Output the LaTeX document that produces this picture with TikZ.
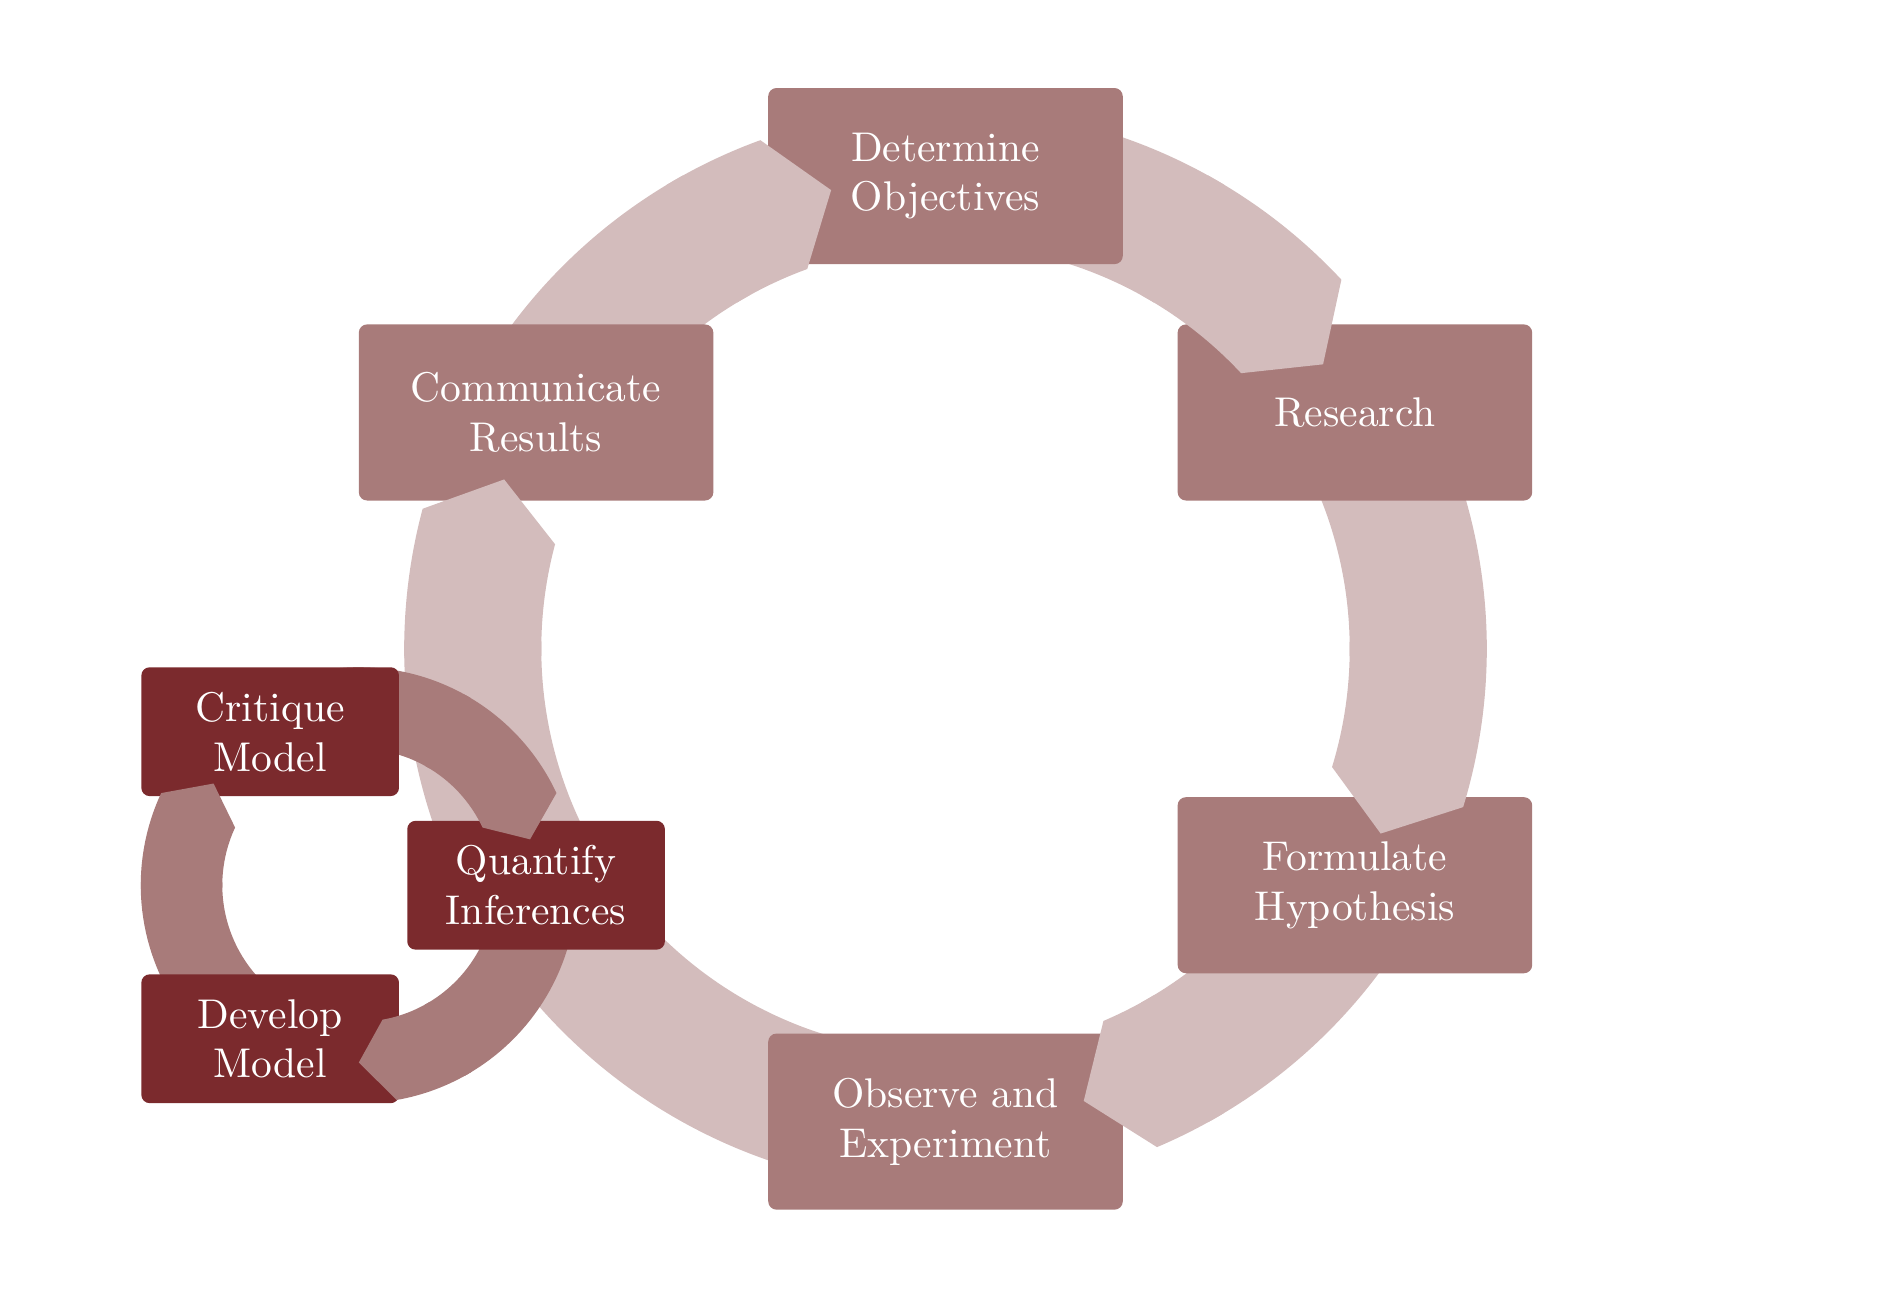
\documentclass[tikz,border=0pt]{standalone}
\usetikzlibrary{calc}
\definecolor{boxmid}{RGB}{168,123,122}
\definecolor{boxdark}{RGB}{123,42,45}
\definecolor{bandlight}{RGB}{211,188,188}
\pgfdeclarelayer{bandback}
\pgfdeclarelayer{bandfront}
\pgfdeclarelayer{loopback}
\pgfdeclarelayer{loopbox}
\pgfdeclarelayer{loopfront}
\pgfsetlayers{bandback,main,bandfront,loopback,loopbox,loopfront}
\begin{document}
\begin{tikzpicture}

\tikzset{bigbox/.style = {shape=rectangle, rounded corners=2pt, fill=boxmid, text=white, align=center, minimum width=3cm, minimum height=1.49cm, inner sep=0pt}}
\tikzset{smallbox/.style = {bigbox, fill=boxdark, minimum width=2.18cm, minimum height=1.09cm}}
\tikzset{bigtail/.style = {line width=1.16cm, bandlight}}
\tikzset{smalltail/.style = {line width=0.69cm, boxmid}}

\useasboundingbox (-8,-5.51) rectangle (8,5.49);
%centres
\coordinate (bigc) at (0,0);
\coordinate (smallc) at (-4.964,-2);

%boxes
\node[bigbox] (obj) at (90:4) {Determine\\Objectives};
\node[bigbox] (res) at (30:4) {Research};
\node[bigbox] (hyp) at (-30:4) {Formulate\\Hypothesis};
\node[bigbox] (obs) at (-90:4) {Observe and\\Experiment};
\node[bigbox] (com) at (150:4) {Communicate\\Results};
\begin{pgfonlayer}{loopbox}
\node[smallbox] (quant) at (210:4) {Quantify\\Inferences};
\node[smallbox] (crit) at ($(smallc)+(120:1.5)$) {Critique\\Model};
\node[smallbox] (dev) at ($(smallc)+(240:1.5)$) {Develop\\Model};
\end{pgfonlayer}

%outer cycle
\begin{pgfonlayer}{bandback}
\draw[bigtail] (obj.center) arc[start angle=90, end angle=59, radius=4];
\draw[bigtail] (res.center) arc[start angle=30, end angle=-1, radius=4];
\draw[bigtail] (hyp.center) arc[start angle=-30, end angle=-61, radius=4];
\draw[bigtail] (obs.center) arc[start angle=-90, end angle=-145, radius=4];
\draw[bigtail] (quant.center) arc[start angle=210, end angle=179, radius=4];
\draw[bigtail] (com.center) arc[start angle=150, end angle=119, radius=4];
\end{pgfonlayer}
\begin{pgfonlayer}{bandfront}
\foreach \s/\b/\t in {61/43/37, 1/-17/-23, -59/-67/-73, 181/165/159, 121/110/104}
  \fill[bandlight] ($(bigc)+(\s:4.58)$) arc[start angle=\s, end angle=\b, radius=4.58]
    -- ($(bigc)+(\t:4)$) -- ($(bigc)+(\b:3.42)$) arc[start angle=\b, end angle=\s, radius=3.42] -- cycle;
\end{pgfonlayer}

%inner cycle
\begin{pgfonlayer}{loopback}
\draw[smalltail] (crit.center) arc[start angle=120, end angle=59, radius=1.5];
\draw[smalltail] (quant.center) arc[start angle=0, end angle=-61, radius=1.5];
\draw[smalltail] (dev.center) arc[start angle=240, end angle=179, radius=1.5];
\end{pgfonlayer}
\begin{pgfonlayer}{loopfront}
\foreach \s/\b/\t in {61/25/15, -59/-80/-90, 181/155/145}
  \fill[boxmid] ($(smallc)+(\s:1.845)$) arc[start angle=\s, end angle=\b, radius=1.845]
    -- ($(smallc)+(\t:1.5)$) -- ($(smallc)+(\b:1.155)$) arc[start angle=\b, end angle=\s, radius=1.155] -- cycle;
\end{pgfonlayer}

\end{tikzpicture}
\end{document}
